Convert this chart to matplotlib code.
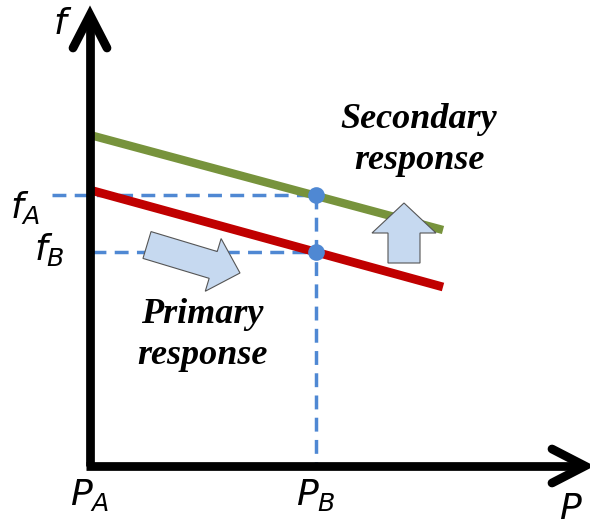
import matplotlib.pyplot as plt
import matplotlib.patches as mpatches

# coordinates: P to the right, f upward, origin at the axes corner
p_line = [0, 353]
f_primary = [276, 179]
f_secondary = [331, 236]
p_a, p_b = 0, 226
f_a, f_b = 271, 214

axis_color = "black"
green = "#77933c"
red = "#c00000"
blue = "#4f88d3"
arrow_fill = "#c6d9f0"

fig = plt.figure(figsize=(5.9, 5.27), dpi=100)
ax = fig.add_axes([0, 0, 1, 1])
ax.set_xlim(-90, 500)
ax.set_ylim(-61, 466)
ax.set_aspect("equal")
ax.axis("off")

# dashed guides
ax.plot([-38, p_b], [f_a, f_a], color=blue, lw=2.5, dashes=(4, 2.4), zorder=2)
ax.plot([2, p_b], [f_b, f_b], color=blue, lw=2.5, dashes=(4, 2.4), zorder=2)
ax.plot([p_b, p_b], [f_a, 0], color=blue, lw=2.5, dashes=(4, 2.4), zorder=2)

# characteristic lines
ax.plot(p_line, f_secondary, color=green, lw=6, solid_capstyle="butt", zorder=3)
ax.plot(p_line, f_primary, color=red, lw=6.3, solid_capstyle="butt", zorder=3)

# operating points
ax.plot([p_b, p_b], [f_a, f_b], "o", color=blue, ms=12, mec="none", zorder=4)

# axes with open arrow heads
ax.plot([0, 0], [0, 449], color=axis_color, lw=6.3, solid_capstyle="butt", zorder=5)
ax.plot([-17, 0, 17], [418, 451, 418], color=axis_color, lw=6.3,
        solid_capstyle="round", solid_joinstyle="miter", zorder=5)
ax.plot([-4, 493], [0, 0], color=axis_color, lw=6.3, solid_capstyle="butt", zorder=5)
ax.plot([462, 495, 462], [17, 0, -17], color=axis_color, lw=6.3,
        solid_capstyle="round", solid_joinstyle="miter", zorder=5)

# block arrows
ax.add_patch(mpatches.FancyArrow(57, 221, 93, -28, width=28, head_width=55,
                                 head_length=28, length_includes_head=True,
                                 fc=arrow_fill, ec="#555555", lw=0.8, zorder=4))
ax.add_patch(mpatches.FancyArrow(314, 203, 0, 60, width=32, head_width=64,
                                 head_length=30, length_includes_head=True,
                                 fc=arrow_fill, ec="#555555", lw=0.8, zorder=4))

# labels
lab = dict(fontsize=26, family="DejaVu Sans", ha="center", va="center")
plt.rcParams["mathtext.fontset"] = "dejavusans"
ax.text(-27, 442, "$f$", **lab)
ax.text(-65, 258, "$f_A$", **lab)
ax.text(-41, 216, "$f_B$", **lab)
ax.text(p_a, -29, "$P_A$", **lab)
ax.text(p_b, -29, "$P_B$", **lab)
ax.text(481, -43, "$P$", **lab)

txt = dict(fontsize=26, family="Liberation Serif", style="italic",
           weight="bold", ha="center", va="center", linespacing=1.32)
ax.text(329, 326, "Secondary\nresponse", **txt)
ax.text(112, 131, "Primary\nresponse", **txt)

fig.savefig("out.png", dpi=100)
